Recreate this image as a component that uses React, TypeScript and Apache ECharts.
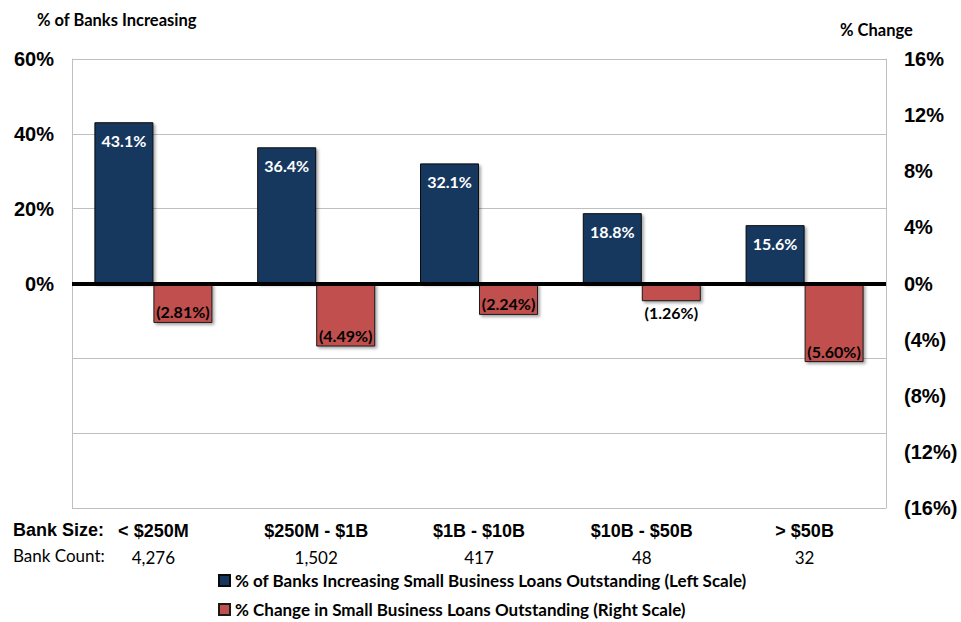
import React, { useEffect, useRef } from "react";
import * as echarts from "echarts";

const categories = ["< $250M", "$250M - $1B", "$1B - $10B", "$10B - $50B", "> $50B"];
const bankCounts = ["4,276", "1,502", "417", "48", "32"];
const pctIncreasing = [43.1, 36.4, 32.1, 18.8, 15.6];
const pctChange = [-2.81, -4.49, -2.24, -1.26, -5.6];
const seriesNames = [
  "% of Banks Increasing Small Business Loans Outstanding (Left Scale)",
  "% Change in Small Business Loans Outstanding (Right Scale)",
];

const CAL = "Lato, 'Open Sans', sans-serif";
const ARIAL = "'Liberation Sans', Arial, sans-serif";

export default function App() {
  const ref = useRef<HTMLDivElement>(null);
  useEffect(() => {
    if (!ref.current) return;
    const chart = echarts.init(ref.current, null, { renderer: "svg" });
    const shadow = {
      shadowBlur: 3,
      shadowOffsetX: 2,
      shadowOffsetY: 2,
      shadowColor: "rgba(0,0,0,0.35)",
    };
    const legendText = { fontFamily: CAL, fontWeight: "bold", fontSize: 17, color: "#000" };
    chart.setOption({
      animation: false,
      backgroundColor: "#ffffff",
      grid: { left: 72, right: 75, top: 59, bottom: 114 },
      legend: [
        {
          left: 218,
          top: 572,
          padding: 0,
          itemWidth: 11,
          itemHeight: 11,
          icon: "rect",
          textStyle: legendText,
          data: [seriesNames[0]],
        },
        {
          left: 218,
          top: 601,
          padding: 0,
          itemWidth: 11,
          itemHeight: 11,
          icon: "rect",
          textStyle: legendText,
          data: [seriesNames[1]],
        },
      ],
      xAxis: {
        type: "category",
        data: categories.map((c, i) => c + "\n" + bankCounts[i]),
        axisLine: { show: false },
        axisTick: { show: false },
        axisLabel: {
          margin: 10,
          interval: 0,
          formatter: (v: string) => {
            const [a, b] = v.split("\n");
            return "{a|" + a + "}\n{b|" + b + "}";
          },
          rich: {
            a: { fontFamily: ARIAL, fontWeight: "bold", fontSize: 18, color: "#000", lineHeight: 26 },
            b: { fontFamily: CAL, fontSize: 17, color: "#000", lineHeight: 26 },
          },
        },
      },
      yAxis: [
        {
          type: "value",
          min: -60,
          max: 60,
          interval: 20,
          axisLine: { show: true, lineStyle: { color: "#bfbfbf", width: 1 } },
          axisTick: { show: false },
          splitLine: { lineStyle: { color: "#bfbfbf", width: 1 } },
          axisLabel: {
            margin: 18,
            fontFamily: ARIAL,
            fontWeight: "bold",
            fontSize: 20,
            color: "#000",
            formatter: (v: number) => (v >= 0 ? v + "%" : ""),
          },
        },
        {
          type: "value",
          min: -16,
          max: 16,
          interval: 4,
          axisLine: { show: true, lineStyle: { color: "#bfbfbf", width: 1 } },
          axisTick: { show: false },
          splitLine: { show: false },
          axisLabel: {
            margin: 18,
            fontFamily: ARIAL,
            fontWeight: "bold",
            fontSize: 20,
            color: "#000",
            formatter: (v: number) => (v < 0 ? "(" + -v + "%)" : v + "%"),
          },
        },
      ],
      series: [
        {
          name: seriesNames[0],
          type: "bar",
          yAxisIndex: 0,
          barWidth: 59,
          barGap: "0%",
          data: pctIncreasing,
          itemStyle: { color: "#17375e", borderColor: "#0a0a0a", borderWidth: 1, ...shadow },
          label: {
            show: true,
            position: "insideTop",
            distance: 10,
            fontFamily: CAL,
            fontWeight: "bold",
            fontSize: 16,
            color: "#ffffff",
            formatter: (p: any) => p.value.toFixed(1) + "%",
          },
          markLine: {
            silent: true,
            symbol: "none",
            label: { show: false },
            lineStyle: { color: "#000", width: 4, type: "solid" },
            data: [{ yAxis: 0 }],
          },
          z: 2,
        },
        {
          name: seriesNames[1],
          type: "bar",
          yAxisIndex: 1,
          barWidth: 59,
          barGap: "0%",
          data: pctChange.map((v) => ({
            value: v,
            label: Math.abs(v) < 2 ? { position: "bottom", distance: 3 } : { position: "insideBottom", distance: 3 },
          })),
          itemStyle: { color: "#c0504d", borderColor: "#1a1a1a", borderWidth: 1, ...shadow },
          label: {
            show: true,
            fontFamily: CAL,
            fontWeight: "bold",
            fontSize: 16,
            color: "#000",
            formatter: (p: any) => "(" + Math.abs(p.value).toFixed(2) + "%)",
          },
          z: 2,
        },
      ],
      graphic: [
        {
          type: "text",
          left: 37,
          top: 11,
          style: { text: "% of Banks Increasing", fontFamily: CAL, fontWeight: "bold", fontSize: 16.5, fill: "#000" },
        },
        {
          type: "text",
          left: 840,
          top: 21,
          style: { text: "% Change", fontFamily: CAL, fontWeight: "bold", fontSize: 16.5, fill: "#000" },
        },
        {
          type: "text",
          left: 13,
          top: 521,
          style: { text: "Bank Size:", fontFamily: ARIAL, fontWeight: "bold", fontSize: 18, fill: "#000" },
        },
        {
          type: "text",
          left: 13,
          top: 547,
          style: { text: "Bank Count:", fontFamily: CAL, fontSize: 17, fill: "#000" },
        },
      ],
    });
    return () => chart.dispose();
  }, []);
  return <div ref={ref} style={{ position: "absolute", left: 0, top: 0, width: 961, height: 622 }} />;
}
